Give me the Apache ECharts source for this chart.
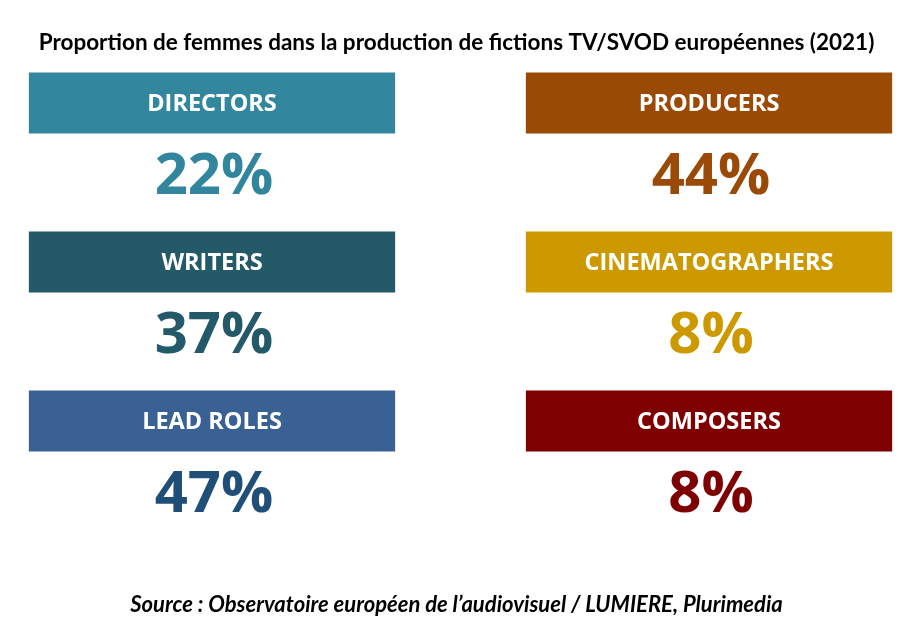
<!DOCTYPE html>
<html>
<head>
<meta charset="utf-8">
<script src="https://cdn.jsdelivr.net/npm/echarts@6/dist/echarts.min.js"></script>
<style>html,body{margin:0;padding:0;background:#fff}#c{width:913px;height:635px}</style>
</head>
<body>
<div id="c"></div>
<script>
var titleText = 'Proportion de femmes dans la production de fictions TV/SVOD européennes (2021)';
var sourceText = 'Source : Observatoire européen de l\u2019audiovisuel / LUMIERE, Plurimedia';
var roles = ['DIRECTORS', 'WRITERS', 'LEAD ROLES', 'PRODUCERS', 'CINEMATOGRAPHERS', 'COMPOSERS'];
var shares = [22, 37, 47, 44, 8, 8];
var columns = [0, 0, 0, 1, 1, 1];
var rows = [0, 1, 2, 0, 1, 2];
var boxColors = ['#32879f', '#245a68', '#3a6194', '#9b4a06', '#cc9a00', '#7f0000'];
var numColors = ['#31869e', '#235968', '#1f4e79', '#9a4a06', '#cc9a00', '#7f0000'];

var chart = echarts.init(document.getElementById('c'));
var data = roles.map(function (r, i) { return [columns[i], rows[i], shares[i], r, i]; });

chart.setOption({
  backgroundColor: '#ffffff',
  animation: false,
  title: [{
    text: titleText, left: 'center', top: 26,
    textStyle: { fontFamily: 'Lato', fontWeight: 'bold', fontSize: 22.5, color: '#000' }
  }, {
    text: sourceText, left: 'center', top: 589,
    textStyle: { fontFamily: 'Lato', fontWeight: 'bold', fontStyle: 'italic', fontSize: 22, color: '#000' }
  }],
  grid: { left: 212, right: 204, top: 103, bottom: 214 },
  xAxis: { type: 'value', min: 0, max: 1, show: false },
  yAxis: { type: 'value', min: 0, max: 2, inverse: true, show: false },
  series: [{
    type: 'custom',
    data: data,
    renderItem: function (params, api) {
      var c = api.coord([api.value(0), api.value(1)]);
      var unit = api.size([1, 1]);
      var w = unit[0] * 0.737, h = unit[1] * 0.385;
      var idx = api.value(4);
      var pctY = c[1] + unit[1] * 0.47;
      return {
        type: 'group',
        children: [{
          type: 'rect',
          shape: { x: c[0] - w / 2, y: c[1] - h / 2, width: w, height: h },
          style: { fill: boxColors[idx] }
        }, {
          type: 'text',
          x: c[0], y: c[1] + 1,
          style: {
            text: roles[idx], fill: '#fff', align: 'center', verticalAlign: 'middle',
            fontFamily: 'Open Sans', fontWeight: 'bold', fontSize: 23.5
          }
        }, {
          type: 'text',
          x: c[0] + 2, y: pctY,
          style: {
            text: api.value(2) + '%', fill: numColors[idx], align: 'center', verticalAlign: 'middle',
            fontFamily: 'Open Sans', fontWeight: 'bold', fontSize: 58
          }
        }]
      };
    }
  }]
});
</script>
</body>
</html>
